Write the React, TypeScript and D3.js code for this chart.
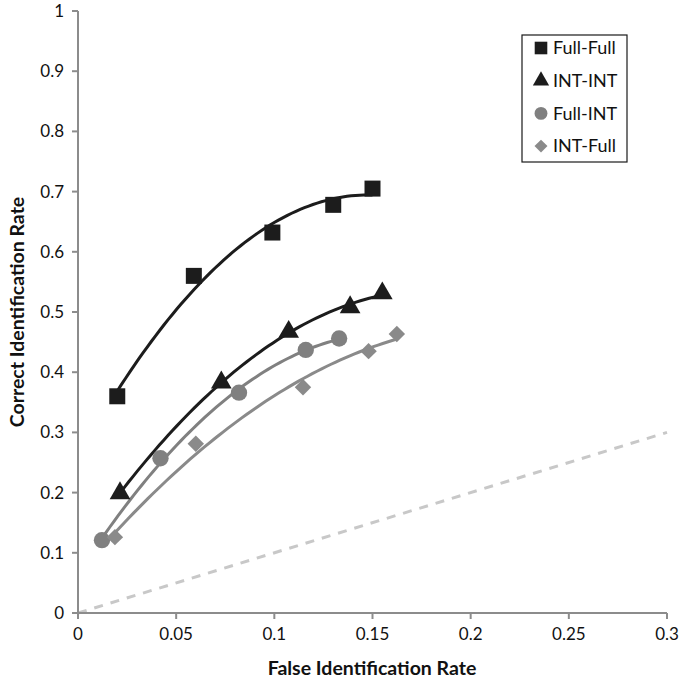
import React from 'react';
import * as d3 from 'd3';

// Data
const ffX = [0.02, 0.059, 0.099, 0.13, 0.15];
const ffY = [0.36, 0.56, 0.632, 0.678, 0.705];
const iiX = [0.0214, 0.073, 0.1073, 0.1386, 0.155];
const iiY = [0.199, 0.383, 0.467, 0.508, 0.531];
const fiX = [0.0122, 0.042, 0.082, 0.116, 0.133];
const fiY = [0.121, 0.257, 0.366, 0.437, 0.456];
const ifX = [0.0188, 0.06, 0.1146, 0.148, 0.1624];
const ifY = [0.126, 0.281, 0.375, 0.435, 0.4635];

const seriesNames = ['Full-Full', 'INT-INT', 'Full-INT', 'INT-Full'];
const xTicks = [0, 0.05, 0.1, 0.15, 0.2, 0.25, 0.3];
const yTicks = [0, 0.1, 0.2, 0.3, 0.4, 0.5, 0.6, 0.7, 0.8, 0.9, 1];
const chanceLine = [[0, 0], [0.3, 0.3]];

const W = 685, H = 681;
const FONT = 'Lato, "Open Sans", sans-serif';

function quadFit(xs: number[], ys: number[]) {
  // least squares y = a + b x + c x^2
  let s0 = xs.length, s1 = 0, s2 = 0, s3 = 0, s4 = 0, t0 = 0, t1 = 0, t2 = 0;
  xs.forEach((x, i) => {
    const y = ys[i];
    s1 += x; s2 += x * x; s3 += x * x * x; s4 += x * x * x * x;
    t0 += y; t1 += x * y; t2 += x * x * y;
  });
  const M = [[s0, s1, s2, t0], [s1, s2, s3, t1], [s2, s3, s4, t2]];
  for (let i = 0; i < 3; i++) {
    let p = i;
    for (let r = i + 1; r < 3; r++) if (Math.abs(M[r][i]) > Math.abs(M[p][i])) p = r;
    [M[i], M[p]] = [M[p], M[i]];
    for (let r = 0; r < 3; r++) {
      if (r === i) continue;
      const f = M[r][i] / M[i][i];
      for (let c = i; c < 4; c++) M[r][c] -= f * M[i][c];
    }
  }
  const a = M[0][3] / M[0][0], b = M[1][3] / M[1][1], c = M[2][3] / M[2][2];
  return (x: number) => a + b * x + c * x * x;
}

export default function App() {
  const x = d3.scaleLinear().domain([0, 0.3]).range([78, 667]);
  const y = d3.scaleLinear().domain([0, 1]).range([613, 11]);

  const series = [
    { name: seriesNames[0], xs: ffX, ys: ffY, color: '#1c1c1c', sym: d3.symbolSquare, size: 256, rot: 0 },
    { name: seriesNames[1], xs: iiX, ys: iiY, color: '#1c1c1c', sym: d3.symbolTriangle, size: 185, rot: 0 },
    { name: seriesNames[2], xs: fiX, ys: fiY, color: '#808080', sym: d3.symbolCircle, size: 210, rot: 0 },
    { name: seriesNames[3], xs: ifX, ys: ifY, color: '#8a8a8a', sym: d3.symbolSquare, size: 135, rot: 45 },
  ];

  const line = d3.line<[number, number]>().x(d => x(d[0])).y(d => y(d[1]));

  const fitPath = (xs: number[], ys: number[]) => {
    const f = quadFit(xs, ys);
    const x0 = d3.min(xs)!, x1 = d3.max(xs)!;
    const pts: [number, number][] = d3.range(0, 61).map(i => {
      const xv = x0 + (x1 - x0) * i / 60;
      return [xv, f(xv)];
    });
    return line(pts)!;
  };

  const fmt = (v: number) => String(+v.toFixed(2));

  return (
    <svg width={W} height={H} style={{ position: 'absolute', left: 0, top: 0, background: '#fff' }} fontFamily={FONT}>
      <rect x={0} y={0} width={W} height={H} fill="#fff" />
      {/* chance line */}
      <path d={line(chanceLine as [number, number][])!} stroke="#c8c8c8" strokeWidth={3} strokeDasharray="9,8" fill="none" />
      {/* axes */}
      <line x1={x(0)} x2={x(0)} y1={y(0)} y2={y(1)} stroke="#8c8c8c" strokeWidth={2} />
      <line x1={x(0)} x2={x(0.3)} y1={y(0)} y2={y(0)} stroke="#8c8c8c" strokeWidth={2} />
      {yTicks.map(t => (
        <g key={'y' + t}>
          <line x1={x(0) - 6} x2={x(0)} y1={y(t)} y2={y(t)} stroke="#8c8c8c" strokeWidth={2} />
          <text x={64} y={y(t)} dy="0.35em" textAnchor="end" fontSize={17} fill="#111">{fmt(t)}</text>
        </g>
      ))}
      {xTicks.map(t => (
        <g key={'x' + t}>
          <line x1={x(t)} x2={x(t)} y1={y(0)} y2={y(0) + 6} stroke="#8c8c8c" strokeWidth={2} />
          <text x={x(t)} y={640} textAnchor="middle" fontSize={17} fill="#111">{fmt(t)}</text>
        </g>
      ))}
      <text x={372} y={675} textAnchor="middle" fontSize={19.5} fontWeight="bold" fill="#111">False Identification Rate</text>
      <text transform="translate(24,312) rotate(-90)" textAnchor="middle" fontSize={19.5} fontWeight="bold" fill="#111">Correct Identification Rate</text>
      {/* trendlines */}
      {series.map(s => (
        <path key={'f' + s.name} d={fitPath(s.xs, s.ys)} stroke={s.color} strokeWidth={3} fill="none" />
      ))}
      {/* markers */}
      {series.map(s => (
        <g key={'m' + s.name}>
          {s.xs.map((xv, i) => (
            <path key={i} d={d3.symbol(s.sym, s.size)()!} fill={s.color}
              transform={`translate(${x(xv)},${y(s.ys[i])}) rotate(${s.rot})`} />
          ))}
        </g>
      ))}
      {/* legend */}
      <rect x={522} y={35} width={105} height={127} fill="#fff" stroke="#1a1a1a" strokeWidth={1.2} />
      {series.map((s, i) => {
        const ly = 48 + i * 32.7;
        return (
          <g key={'l' + s.name}>
            <path d={d3.symbol(s.sym, s.size * 0.62)()!} fill={s.color} transform={`translate(541,${ly}) rotate(${s.rot})`} />
            <text x={553} y={ly} dy="0.35em" fontSize={18} fill="#111">{s.name}</text>
          </g>
        );
      })}
    </svg>
  );
}
